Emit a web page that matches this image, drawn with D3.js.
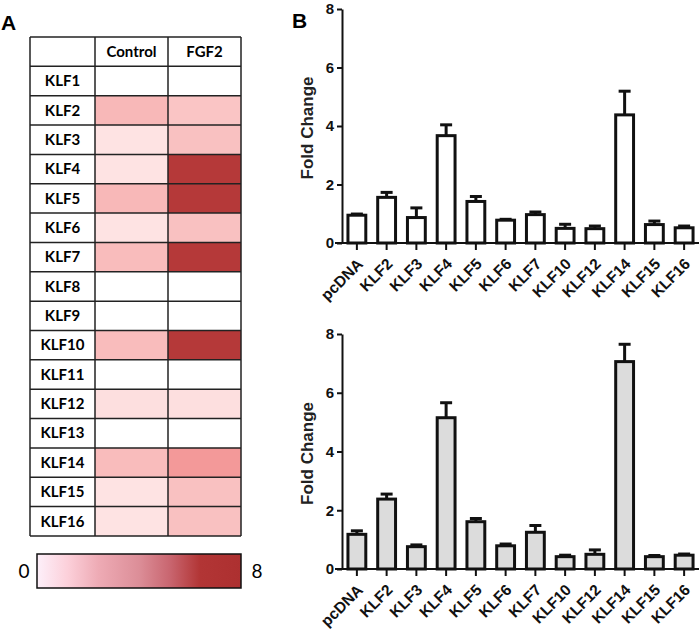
<!DOCTYPE html>
<html>
<head>
<meta charset="utf-8">
<script src="https://cdn.jsdelivr.net/npm/d3@7"></script>
<style>
  body { margin: 0; background: #fff; }
  svg { display: block; }
  .panel-label { font-family: "Liberation Sans", Arial, sans-serif; font-weight: bold; font-size: 21px; }
  .heat-text { font-family: Lato, "Open Sans", sans-serif; font-weight: bold; font-size: 15px; }
  .legend-text { font-family: Lato, "Open Sans", sans-serif; font-size: 19px; }
  .axis text { font-family: "Liberation Sans", Arial, sans-serif; font-weight: bold; font-size: 15px; fill: #111; }
  .x-axis text { font-size: 15.5px; }
  .axis path, .axis line { stroke: #111; stroke-width: 2; }
  .axis-title { font-family: "Liberation Sans", Arial, sans-serif; font-weight: bold; font-size: 17px; fill: #222; }
</style>
</head>
<body>
<div id="chart"></div>
<script>
// ---- data ----
const heatGenes = ['KLF1', 'KLF2', 'KLF3', 'KLF4', 'KLF5', 'KLF6', 'KLF7', 'KLF8',
  'KLF9', 'KLF10', 'KLF11', 'KLF12', 'KLF13', 'KLF14', 'KLF15', 'KLF16'];
const heatColumns = ['Control', 'FGF2'];
const heatControl = [0, 1.5, 0.5, 0.5, 1.5, 0.5, 1.4, 0, 0, 1.4, 0, 0.6, 0, 1.4, 0.5, 0.5];
const heatFgf2 = [0, 1.2, 1.3, 7.6, 7.6, 1.3, 7.6, 0, 0, 7.6, 0, 0.6, 0, 2.4, 1.3, 1.3];
const legendTicks = [0, 8];

const barCategories = ['pcDNA', 'KLF2', 'KLF3', 'KLF4', 'KLF5', 'KLF6', 'KLF7',
  'KLF10', 'KLF12', 'KLF14', 'KLF15', 'KLF16'];
const topMeans = [0.95, 1.56, 0.87, 3.67, 1.42, 0.78, 0.97, 0.5, 0.49, 4.38, 0.63, 0.52];
const topErrors = [0.04, 0.17, 0.33, 0.37, 0.17, 0.03, 0.09, 0.14, 0.09, 0.81, 0.12, 0.06];
const bottomMeans = [1.18, 2.38, 0.76, 5.15, 1.61, 0.79, 1.25, 0.42, 0.5, 7.06, 0.42, 0.47];
const bottomErrors = [0.12, 0.17, 0.06, 0.51, 0.11, 0.06, 0.23, 0.05, 0.15, 0.59, 0.04, 0.04];
const yTicks = [0, 2, 4, 6, 8];

const svg = d3.select('#chart').append('svg')
  .attr('width', 700)
  .attr('height', 633);

// ---- panel A: heat table ----
function drawHeatTable() {
  const left = 30, top = 37, rowH = 29.35;
  const colEdges = [30, 95, 168, 241];

  // cell colours
  const cellColor = d3.scaleLinear()
    .domain([0, 0.5, 1.5, 2.5, 8])
    .range(['#ffffff', '#fee3e3', '#f8b8b8', '#f29595', '#b03232']);

  const rows = heatGenes.map((g, i) => ({ gene: g, values: [heatControl[i], heatFgf2[i]] }));

  const y = d3.scaleBand()
    .domain(['header'].concat(heatGenes))
    .range([top, top + rowH * (heatGenes.length + 1)]);

  const g = svg.append('g');

  // header row
  heatColumns.forEach((c, j) => {
    g.append('text')
      .attr('class', 'heat-text')
      .attr('x', (colEdges[j + 1] + colEdges[j + 2]) / 2)
      .attr('y', y('header') + y.bandwidth() / 2)
      .attr('dy', '0.35em')
      .attr('text-anchor', 'middle')
      .text(c);
  });

  const rowG = g.selectAll('.heat-row')
    .data(rows)
    .join('g')
    .attr('class', 'heat-row')
    .attr('transform', d => `translate(0,${y(d.gene)})`);

  rowG.selectAll('rect')
    .data(d => d.values)
    .join('rect')
    .attr('x', (d, j) => colEdges[j + 1])
    .attr('width', (d, j) => colEdges[j + 2] - colEdges[j + 1])
    .attr('height', y.bandwidth())
    .attr('fill', d => cellColor(d));

  rowG.append('text')
    .attr('class', 'heat-text')
    .attr('x', (colEdges[0] + colEdges[1]) / 2)
    .attr('y', y.bandwidth() / 2)
    .attr('dy', '0.35em')
    .attr('text-anchor', 'middle')
    .text(d => d.gene);

  // grid lines
  const bottom = y.range()[1];
  y.domain().concat(['end']).forEach(k => {
    const yy = k === 'end' ? bottom : y(k);
    g.append('line')
      .attr('x1', left).attr('x2', colEdges[3])
      .attr('y1', yy).attr('y2', yy)
      .attr('stroke', '#222').attr('stroke-width', 1.5);
  });
  colEdges.forEach(x => {
    g.append('line')
      .attr('x1', x).attr('x2', x)
      .attr('y1', top).attr('y2', bottom)
      .attr('stroke', '#222').attr('stroke-width', 1.5);
  });

  // colour bar legend
  const legendColor = d3.scaleLinear()
    .domain([0, 1.2, 2.4, 4, 5.2, 6.4, 8])
    .range(['#fdf0fa', '#fcd0da', '#eeabb5', '#dc8e98', '#c96670', '#b23535', '#ad3030']);
  const lx = d3.scaleLinear().domain(d3.extent(legendTicks)).range([37, 241]);

  const grad = svg.append('defs').append('linearGradient')
    .attr('id', 'heat-grad');
  grad.selectAll('stop')
    .data(legendColor.domain())
    .join('stop')
    .attr('offset', d => (d / 8 * 100) + '%')
    .attr('stop-color', d => legendColor(d));

  svg.append('rect')
    .attr('x', lx(0)).attr('y', 554)
    .attr('width', lx(8) - lx(0)).attr('height', 34)
    .attr('fill', 'url(#heat-grad)')
    .attr('stroke', '#111').attr('stroke-width', 1.5);

  svg.selectAll('.legend-text')
    .data(legendTicks)
    .join('text')
    .attr('class', 'legend-text')
    .attr('x', d => d === 0 ? lx(d) - 13 : lx(d) + 16)
    .attr('y', 571)
    .attr('dy', '0.35em')
    .attr('text-anchor', 'middle')
    .text(d => d);

  svg.append('text').attr('class', 'panel-label').attr('x', 1).attr('y', 30).text('A');
}

// ---- panel B: bar charts ----
function drawBars(means, errors, yTop, yZero, fill) {
  const x = d3.scaleBand()
    .domain(barCategories)
    .range([342, 699])
    .paddingInner(0.4)
    .paddingOuter(0.2);
  const y = d3.scaleLinear().domain([0, 8]).range([yZero, yTop]);

  const data = barCategories.map((c, i) => ({ cat: c, mean: means[i], err: errors[i] }));
  const g = svg.append('g');

  // error bars first, bars drawn over them
  const eb = g.selectAll('.err')
    .data(data)
    .join('g')
    .attr('class', 'err')
    .attr('transform', d => `translate(${x(d.cat) + x.bandwidth() / 2},0)`);
  eb.append('line')
    .attr('y1', d => y(d.mean)).attr('y2', d => y(d.mean + d.err))
    .attr('stroke', '#111').attr('stroke-width', 3);
  eb.append('line')
    .attr('x1', -6).attr('x2', 6)
    .attr('y1', d => y(d.mean + d.err)).attr('y2', d => y(d.mean + d.err))
    .attr('stroke', '#111').attr('stroke-width', 3);

  g.selectAll('.bar')
    .data(data)
    .join('rect')
    .attr('class', 'bar')
    .attr('x', d => x(d.cat))
    .attr('width', x.bandwidth())
    .attr('y', d => y(d.mean))
    .attr('height', d => y(0) - y(d.mean))
    .attr('fill', fill)
    .attr('stroke', '#111')
    .attr('stroke-width', 3);

  const xAxis = g.append('g')
    .attr('class', 'axis x-axis')
    .attr('transform', `translate(0,${yZero})`)
    .call(d3.axisBottom(x).tickSize(7).tickSizeOuter(0));
  xAxis.select('.domain').attr('d', `M335,0H699`);
  xAxis.selectAll('text')
    .attr('x', 0).attr('y', 0).attr('dy', 0)
    .attr('text-anchor', 'end')
    .attr('transform', 'translate(7,22) rotate(-45)');

  g.append('g')
    .attr('class', 'axis')
    .attr('transform', 'translate(342,0)')
    .call(d3.axisLeft(y).tickValues(yTicks).tickSize(5).tickPadding(3).tickSizeOuter(0));

  g.append('text')
    .attr('class', 'axis-title')
    .attr('transform', `translate(313,${(yTop + yZero) / 2 + 2}) rotate(-90)`)
    .attr('text-anchor', 'middle')
    .text('Fold Change');
}

drawHeatTable();
drawBars(topMeans, topErrors, 9, 243, '#ffffff');
drawBars(bottomMeans, bottomErrors, 334, 569, '#dcdcdc');
svg.append('text').attr('class', 'panel-label').attr('x', 292).attr('y', 28).text('B');
</script>
</body>
</html>
